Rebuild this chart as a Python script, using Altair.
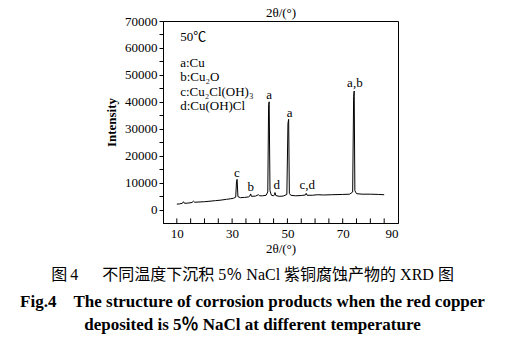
import altair as alt
import pandas as pd

# XRD spectrum
two_theta = [10, 11, 12, 12.4, 12.8, 14, 15.5, 16, 16.5, 18, 20, 22, 24, 26, 28, 29.5,
             30.5, 31.3, 31.6, 31.8, 32.1, 33, 34.5, 36, 36.4, 36.7, 37, 38.5, 39.5, 40,
             41, 42.3, 42.9, 43.2, 43.4, 43.7, 44.2, 45, 45.3, 45.5, 45.8, 47, 48.5, 49.8,
             50.2, 50.45, 50.7, 51.2, 53, 55, 56.5, 56.8, 57.1, 59, 61, 63, 66, 70, 72.5,
             73.6, 73.95, 74.15, 74.4, 75, 77, 80, 83, 85]
intensity = [2000, 2100, 2300, 2900, 2300, 2400, 2600, 3100, 2700, 2800, 2900, 3100, 3300,
             3500, 3800, 4000, 4200, 4600, 10500, 11200, 4800, 4400, 4500, 4700, 5000, 5800,
             4900, 5000, 5500, 5100, 5100, 5300, 6500, 39000, 40000, 7000, 5300, 5100, 5500,
             6300, 5200, 4900, 5000, 5600, 32000, 33500, 6000, 5300, 5100, 5200, 5400, 6000,
             5300, 5300, 5500, 5400, 5500, 5600, 5700, 6500, 42000, 44000, 7000, 5900, 5700,
             5700, 5600, 5500]

peak_x = [31.7, 36.7, 43.4, 46.1, 50.8, 57.2, 74.4]
peak_y = [13500, 8300, 42500, 9100, 36000, 9100, 47000]
peak_text = ["c", "b", "a", "d", "a", "c,d", "a,b"]

legend_x = [11.2, 11.2, 11.2, 11.2, 11.2]
legend_y = [64200, 54300, 49100, 43700, 38400]
legend_text = ["50℃", "a:Cu", "b:Cu₂O", "c:Cu₂Cl(OH)₃", "d:Cu(OH)Cl"]

x_tick_pos = [10, 15, 20, 25, 30, 35, 40, 45, 50, 55, 60, 65, 70, 75, 80, 85]
x_labels = [10, 30, 50, 70, 90]
y_ticks = [0, 5000, 10000, 15000, 20000, 25000, 30000, 35000, 40000, 45000,
           50000, 55000, 60000, 65000, 70000]

caption_cn = "图\u20094\u2003\u2002不同温度下沉积 5％ NaCl 紫铜腐蚀产物的 XRD 图"
caption_en = ["Fig.4\u2003The structure of corrosion products when the red copper",
              "deposited is 5％ NaCl at different temperature"]

FONT = "Liberation Serif, Noto Sans CJK SC"

spec = pd.DataFrame({"x": two_theta, "y": intensity})
peaks = pd.DataFrame({"x": peak_x, "y": peak_y, "t": peak_text})
leg = pd.DataFrame({"x": legend_x, "y": legend_y, "t": legend_text})
ticks = pd.DataFrame({"x": x_tick_pos})

xs = alt.Scale(domain=[5, 90], nice=False)
ys = alt.Scale(domain=[-5000, 70000], nice=False)

y_axis = alt.Axis(
    orient="left", values=y_ticks, format="d",
    labelExpr="datum.value % 10000 == 0 ? datum.label : ''",
    title="Intensity", labelFontSize=13, titleFontSize=13,
    titleFontWeight="bold", tickSize=4, tickColor="black",
    domainColor="black", labelColor="black", titleColor="black",
    titlePadding=6, grid=False)

line = alt.Chart(spec).mark_line(color="black", strokeWidth=1).encode(
    x=alt.X("x:Q", scale=xs, axis=alt.Axis(
        values=x_labels, title="2θ/(°)", ticks=False, labelPadding=4,
        labelFontSize=13, titleFontSize=13, titleFontWeight="normal",
        titlePadding=2, domainColor="black", labelColor="black", titleColor="black",
        grid=False)),
    y=alt.Y("y:Q", scale=ys, axis=y_axis),
)

peak_lbl = alt.Chart(peaks).mark_text(fontSize=13, font=FONT, color="black").encode(
    x=alt.X("x:Q", scale=xs, axis=alt.Axis(
        orient="top", labels=False, ticks=False, domain=False, grid=False,
        title="2θ/(°)", titleFontSize=13, titleFontWeight="normal",
        titleColor="black", titlePadding=2)),
    y=alt.Y("y:Q", scale=ys, axis=y_axis),
    text="t:N",
)

leg_lbl = alt.Chart(leg).mark_text(fontSize=13, font=FONT, color="black",
                                   align="left").encode(
    x=alt.X("x:Q", scale=xs, axis=None),
    y=alt.Y("y:Q", scale=ys, axis=y_axis),
    text="t:N",
)

tick_marks = alt.Chart(ticks).mark_rule(color="black", strokeWidth=1).encode(
    x=alt.X("x:Q", scale=xs, axis=None),
    y=alt.YDatum(-5000, scale=ys, axis=y_axis),
    y2=alt.datum(-3300),
)

chart = alt.layer(line, tick_marks, peak_lbl, leg_lbl).resolve_axis(
    x="independent"
).properties(
    width=235, height=202,
    autosize=alt.AutoSizeParams(type="none"),
    padding={"left": 163, "top": 21, "right": 110, "bottom": 128},
    title=alt.TitleParams(
        text=caption_cn, subtitle=caption_en, orient="bottom", anchor="middle",
        dx=-28, offset=12, fontSize=16, fontWeight="normal", font=FONT,
        color="black", subtitleFont=FONT, subtitleFontSize=17,
        subtitleFontWeight="bold", subtitleColor="black", subtitlePadding=11,
        subtitleLineHeight=23),
).configure(font=FONT, background="white").configure_view(
    stroke="black", strokeWidth=1)

chart.save("out.html", embed_options={"renderer": "svg", "actions": False})
